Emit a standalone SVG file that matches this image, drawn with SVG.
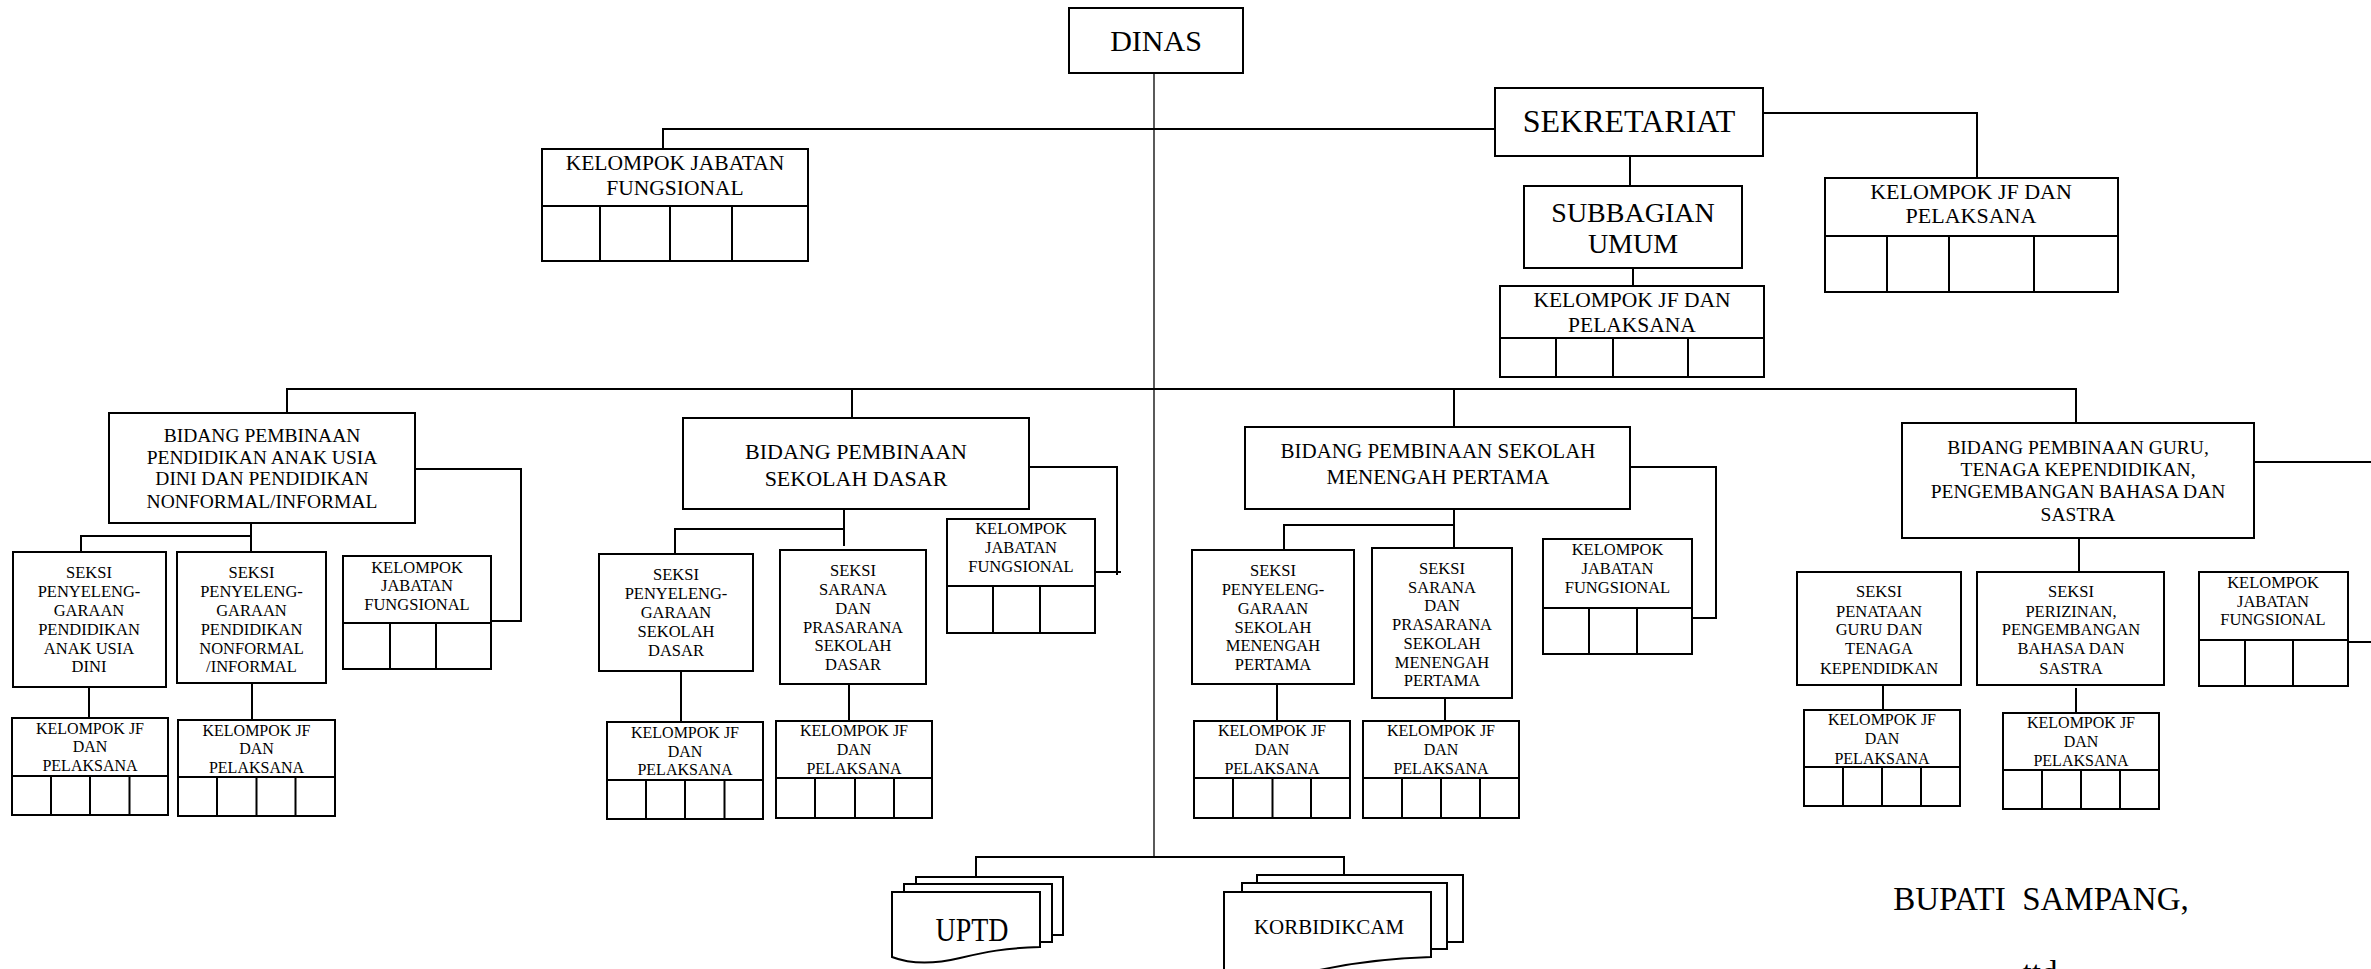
<svg xmlns="http://www.w3.org/2000/svg" width="2371" height="969" viewBox="0 0 2371 969">
<style>
.b{fill:#fff;stroke:#000;stroke-width:2}
.l{fill:none;stroke:#000;stroke-width:2}
.thin{fill:none;stroke:#000;stroke-width:1.3}
text{font-family:"Liberation Serif","Times New Roman",serif;fill:#000;text-anchor:middle}
.f30{font-size:30px}.f32{font-size:32px}.f28{font-size:28px}.f22{font-size:21.5px}
.f19{font-size:19.5px}.f21{font-size:21px}.fb{font-size:22px}
.s{font-size:16.5px}.k{font-size:16px}.f33{font-size:33px}.f20{font-size:20px}
</style>
<rect width="2371" height="969" fill="#fff"/>
<g id="connectors">
<path class="thin" d="M1154 73V857"/>
<path class="l" d="M663 149V129H1495"/>
<path class="l" d="M1763 113H1977V178"/>
<path class="l" d="M1630 156V186"/>
<path class="l" d="M1633 268V286"/>
<path class="l" d="M287 413V389H2076V423"/>
<path class="l" d="M852 389V418"/>
<path class="l" d="M1454 389V427"/>
<path class="l" d="M415 469H521V621H491"/>
<path class="l" d="M251 523V552M81 552V536H251"/>
<path class="l" d="M89 687V718M252 683V720"/>
<path class="l" d="M1029 467H1117V575M1092 572H1121"/>
<path class="l" d="M844 509V546M675 554V529H844"/>
<path class="l" d="M681 671V722M849 684V721"/>
<path class="l" d="M1630 467H1716V618H1689"/>
<path class="l" d="M1454 509V548M1284 550V525H1454"/>
<path class="l" d="M1277 684V721M1445 698V721"/>
<path class="l" d="M2254 462H2371M2348 642H2371"/>
<path class="l" d="M2079 538V572"/>
<path class="l" d="M1883 685V710M2076 688V713"/>
<path class="l" d="M976 877V857H1344V875"/>
</g>
<g id="dinas"><rect class="b" x="1069" y="8" width="174" height="65"/><text class="f30" x="1156" y="51">DINAS</text></g>
<g id="sekretariat"><rect class="b" x="1495" y="88" width="268" height="68"/><text class="f32" x="1629" y="132">SEKRETARIAT</text></g>
<g id="subbagian-umum"><rect class="b" x="1524" y="186" width="218" height="82"/><text class="f28" x="1633"><tspan x="1633" y="222">SUBBAGIAN</tspan><tspan x="1633" y="253">UMUM</tspan></text></g>
<g id="kjf-sekretariat"><rect class="b" x="1500" y="286" width="264" height="91"/><path class="l" d="M1500 338H1764M1556 338V377M1613 338V377M1688 338V377"/><text class="f22" x="1632"><tspan x="1632" y="307">KELOMPOK JF DAN</tspan><tspan x="1632" y="332">PELAKSANA</tspan></text></g>
<g id="kjf-right"><rect class="b" x="1825" y="178" width="293" height="114"/><path class="l" d="M1825 236H2118M1887 236V292M1949 236V292M2034 236V292"/><text class="fb" x="1971"><tspan x="1971" y="199">KELOMPOK JF DAN</tspan><tspan x="1971" y="223">PELAKSANA</tspan></text></g>
<g id="kjf-top"><rect class="b" x="542" y="149" width="266" height="112"/><path class="l" d="M542 206H808M600 206V261M670 206V261M732 206V261"/><text class="f22" x="675"><tspan x="675" y="170">KELOMPOK JABATAN</tspan><tspan x="675" y="195">FUNGSIONAL</tspan></text></g>

<g id="bidang-paud"><rect class="b" x="109" y="413" width="306" height="110"/><text class="f19" x="262"><tspan x="262" y="442">BIDANG PEMBINAAN</tspan><tspan x="262" y="463.5">PENDIDIKAN ANAK USIA</tspan><tspan x="262" y="485">DINI DAN PENDIDIKAN</tspan><tspan x="262" y="507.5">NONFORMAL/INFORMAL</tspan></text></g>
<g id="seksi-paud-1"><rect class="b" x="13" y="552" width="153" height="135"/><text class="s" x="89"><tspan x="89" y="578">SEKSI</tspan><tspan x="89" y="597">PENYELENG-</tspan><tspan x="89" y="616">GARAAN</tspan><tspan x="89" y="635">PENDIDIKAN</tspan><tspan x="89" y="654">ANAK USIA</tspan><tspan x="89" y="672">DINI</tspan></text></g>
<g id="seksi-paud-2"><rect class="b" x="177" y="552" width="149" height="131"/><text class="s" x="251.5"><tspan x="251.5" y="578">SEKSI</tspan><tspan x="251.5" y="597">PENYELENG-</tspan><tspan x="251.5" y="616">GARAAN</tspan><tspan x="251.5" y="635">PENDIDIKAN</tspan><tspan x="251.5" y="654">NONFORMAL</tspan><tspan x="251.5" y="672">/INFORMAL</tspan></text></g>
<g id="kjf-paud"><rect class="b" x="343" y="556" width="148" height="113"/><path class="l" d="M343 623H491M390 623V669M436 623V669"/><text class="s" x="417"><tspan x="417" y="572.5">KELOMPOK</tspan><tspan x="417" y="591">JABATAN</tspan><tspan x="417" y="609.5">FUNGSIONAL</tspan></text></g>
<g id="kjfp-paud-1"><rect class="b" x="12" y="718" width="156" height="97"/><path class="l" d="M12 776H168M51 776V815M90 776V815M129.5 776V815"/><text class="k" x="90"><tspan x="90" y="733.5">KELOMPOK JF</tspan><tspan x="90" y="752">DAN</tspan><tspan x="90" y="770.5">PELAKSANA</tspan></text></g>
<g id="kjfp-paud-2"><rect class="b" x="178" y="720" width="157" height="96"/><path class="l" d="M178 777H335M217 777V816M256.5 777V816M295.5 777V816"/><text class="k" x="256.5"><tspan x="256.5" y="735.5">KELOMPOK JF</tspan><tspan x="256.5" y="754">DAN</tspan><tspan x="256.5" y="772.5">PELAKSANA</tspan></text></g>

<g id="bidang-sd"><rect class="b" x="683" y="418" width="346" height="91"/><text class="fb" x="856"><tspan x="856" y="459">BIDANG PEMBINAAN</tspan><tspan x="856" y="486">SEKOLAH DASAR</tspan></text></g>
<g id="seksi-sd-1"><rect class="b" x="599" y="554" width="154" height="117"/><text class="s" x="676"><tspan x="676" y="580">SEKSI</tspan><tspan x="676" y="599">PENYELENG-</tspan><tspan x="676" y="618">GARAAN</tspan><tspan x="676" y="637">SEKOLAH</tspan><tspan x="676" y="656">DASAR</tspan></text></g>
<g id="seksi-sd-2"><rect class="b" x="780" y="550" width="146" height="134"/><text class="s" x="853"><tspan x="853" y="576">SEKSI</tspan><tspan x="853" y="595">SARANA</tspan><tspan x="853" y="614">DAN</tspan><tspan x="853" y="632.5">PRASARANA</tspan><tspan x="853" y="651">SEKOLAH</tspan><tspan x="853" y="670">DASAR</tspan></text></g>
<g id="kjf-sd"><rect class="b" x="947" y="519" width="148" height="114"/><path class="l" d="M947 586H1095M993 586V633M1040 586V633"/><text class="s" x="1021"><tspan x="1021" y="534">KELOMPOK</tspan><tspan x="1021" y="553">JABATAN</tspan><tspan x="1021" y="572">FUNGSIONAL</tspan></text></g>
<g id="kjfp-sd-1"><rect class="b" x="607" y="722" width="156" height="97"/><path class="l" d="M607 780H763M646 780V819M685 780V819M724.5 780V819"/><text class="k" x="685"><tspan x="685" y="737.5">KELOMPOK JF</tspan><tspan x="685" y="756.5">DAN</tspan><tspan x="685" y="775">PELAKSANA</tspan></text></g>
<g id="kjfp-sd-2"><rect class="b" x="776" y="721" width="156" height="97"/><path class="l" d="M776 778H932M815 778V818M855 778V818M894 778V818"/><text class="k" x="854"><tspan x="854" y="736">KELOMPOK JF</tspan><tspan x="854" y="755">DAN</tspan><tspan x="854" y="774">PELAKSANA</tspan></text></g>

<g id="bidang-smp"><rect class="b" x="1245" y="427" width="385" height="82"/><text class="f21" x="1438"><tspan x="1438" y="457.5">BIDANG PEMBINAAN SEKOLAH</tspan><tspan x="1438" y="483.5">MENENGAH PERTAMA</tspan></text></g>
<g id="seksi-smp-1"><rect class="b" x="1192" y="550" width="162" height="134"/><text class="s" x="1273"><tspan x="1273" y="576">SEKSI</tspan><tspan x="1273" y="595">PENYELENG-</tspan><tspan x="1273" y="614">GARAAN</tspan><tspan x="1273" y="632.5">SEKOLAH</tspan><tspan x="1273" y="651">MENENGAH</tspan><tspan x="1273" y="670">PERTAMA</tspan></text></g>
<g id="seksi-smp-2"><rect class="b" x="1372" y="548" width="140" height="150"/><text class="s" x="1442"><tspan x="1442" y="573.5">SEKSI</tspan><tspan x="1442" y="592.5">SARANA</tspan><tspan x="1442" y="611">DAN</tspan><tspan x="1442" y="630">PRASARANA</tspan><tspan x="1442" y="649">SEKOLAH</tspan><tspan x="1442" y="667.5">MENENGAH</tspan><tspan x="1442" y="686">PERTAMA</tspan></text></g>
<g id="kjf-smp"><rect class="b" x="1543" y="539" width="149" height="115"/><path class="l" d="M1543 608H1692M1589 608V654M1637 608V654"/><text class="s" x="1617.5"><tspan x="1617.5" y="555">KELOMPOK</tspan><tspan x="1617.5" y="574">JABATAN</tspan><tspan x="1617.5" y="592.5">FUNGSIONAL</tspan></text></g>
<g id="kjfp-smp-1"><rect class="b" x="1194" y="721" width="156" height="97"/><path class="l" d="M1194 778H1350M1233 778V818M1272.5 778V818M1311 778V818"/><text class="k" x="1272"><tspan x="1272" y="736">KELOMPOK JF</tspan><tspan x="1272" y="755">DAN</tspan><tspan x="1272" y="774">PELAKSANA</tspan></text></g>
<g id="kjfp-smp-2"><rect class="b" x="1363" y="721" width="156" height="97"/><path class="l" d="M1363 778H1519M1402 778V818M1441 778V818M1480 778V818"/><text class="k" x="1441"><tspan x="1441" y="736">KELOMPOK JF</tspan><tspan x="1441" y="755">DAN</tspan><tspan x="1441" y="774">PELAKSANA</tspan></text></g>

<g id="bidang-guru"><rect class="b" x="1902" y="423" width="352" height="115"/><text class="f19" x="2078"><tspan x="2078" y="453.5">BIDANG PEMBINAAN GURU,</tspan><tspan x="2078" y="476">TENAGA KEPENDIDIKAN,</tspan><tspan x="2078" y="497.5">PENGEMBANGAN BAHASA DAN</tspan><tspan x="2078" y="521">SASTRA</tspan></text></g>
<g id="seksi-guru-1"><rect class="b" x="1797" y="572" width="164" height="113"/><text class="s" x="1879"><tspan x="1879" y="597">SEKSI</tspan><tspan x="1879" y="617">PENATAAN</tspan><tspan x="1879" y="635">GURU DAN</tspan><tspan x="1879" y="654">TENAGA</tspan><tspan x="1879" y="673.5">KEPENDIDKAN</tspan></text></g>
<g id="seksi-guru-2"><rect class="b" x="1977" y="572" width="187" height="113"/><text class="s" x="2071"><tspan x="2071" y="597">SEKSI</tspan><tspan x="2071" y="617">PERIZINAN,</tspan><tspan x="2071" y="635">PENGEMBANGAN</tspan><tspan x="2071" y="654">BAHASA DAN</tspan><tspan x="2071" y="673.5">SASTRA</tspan></text></g>
<g id="kjf-guru"><rect class="b" x="2199" y="572" width="149" height="114"/><path class="l" d="M2199 640H2348M2245 640V686M2293 640V686"/><text class="s" x="2273"><tspan x="2273" y="587.5">KELOMPOK</tspan><tspan x="2273" y="607">JABATAN</tspan><tspan x="2273" y="625">FUNGSIONAL</tspan></text></g>
<g id="kjfp-guru-1"><rect class="b" x="1804" y="710" width="156" height="96"/><path class="l" d="M1804 767H1960M1843 767V806M1882 767V806M1921 767V806"/><text class="k" x="1882"><tspan x="1882" y="725">KELOMPOK JF</tspan><tspan x="1882" y="744">DAN</tspan><tspan x="1882" y="763.5">PELAKSANA</tspan></text></g>
<g id="kjfp-guru-2"><rect class="b" x="2003" y="713" width="156" height="96"/><path class="l" d="M2003 770H2159M2042 770V809M2081 770V809M2120 770V809"/><text class="k" x="2081"><tspan x="2081" y="728">KELOMPOK JF</tspan><tspan x="2081" y="747">DAN</tspan><tspan x="2081" y="766">PELAKSANA</tspan></text></g>

<g id="uptd">
<rect class="b" x="916" y="877" width="147" height="58"/>
<rect class="b" x="904" y="884" width="148" height="58"/>
<path class="b" d="M892 892H1040V947C1005 948 985 952 960 958C935 964 910 964 892 957Z"/>
<text class="f33" x="972" y="941" textLength="73" lengthAdjust="spacingAndGlyphs">UPTD</text>
</g>
<g id="korbidikcam">
<rect class="b" x="1257" y="875" width="206" height="67"/>
<rect class="b" x="1242" y="883" width="205" height="66"/>
<path class="b" d="M1224 892H1431V957C1395 958 1355 962 1315 971C1285 978 1255 980 1224 976Z"/>
<text class="f20" x="1329" y="934" textLength="150" lengthAdjust="spacingAndGlyphs">KORBIDIKCAM</text>
</g>
<g id="signature">
<text class="f33" x="2041" y="910" xml:space="preserve">BUPATI  SAMPANG,</text>
<text class="f33" x="2040" y="984">ttd</text>
</g>
</svg>
